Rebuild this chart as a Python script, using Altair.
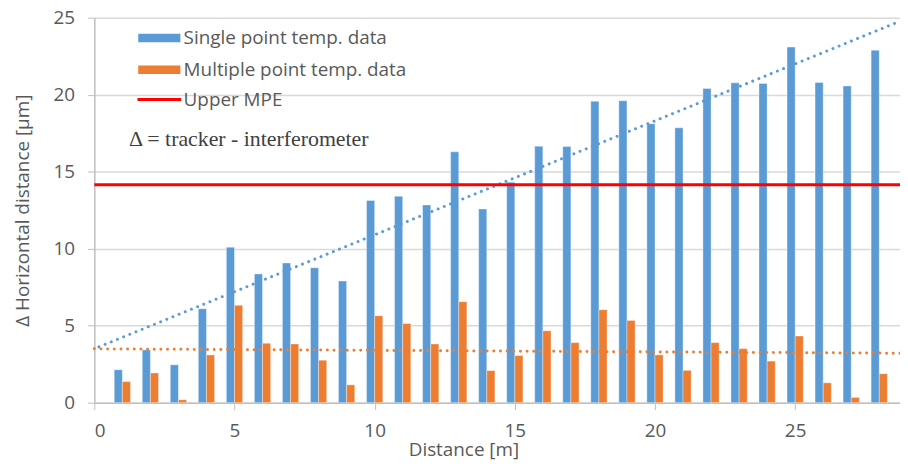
import altair as alt
import pandas as pd

distance = list(range(1, 29))
single = [2.14, 3.43, 2.46, 6.10, 10.10, 8.36, 9.07, 8.77, 7.90, 13.13,
          13.40, 12.84, 16.29, 12.58, 14.32, 16.65, 16.63, 19.57, 19.61, 18.11,
          17.85, 20.40, 20.77, 20.73, 23.09, 20.79, 20.57, 22.89]
multiple = [1.37, 1.93, 0.19, 3.10, 6.32, 3.86, 3.81, 2.76, 1.16, 5.64,
            5.14, 3.81, 6.56, 2.08, 3.06, 4.67, 3.90, 6.04, 5.34, 3.10,
            2.10, 3.90, 3.51, 2.70, 4.33, 1.29, 0.34, 1.88]
upper_mpe = [14.15]

S = "Single point temp. data"
M = "Multiple point temp. data"
BLUE = "#5B9BD5"
ORANGE = "#ED7D31"
RED = "#FF0000"
XMAX = 28.74
FONT = "Open Sans"
FS = 19
GRAY = "#595959"

df = pd.DataFrame({"x": distance, S: single, M: multiple})
long = df.melt("x", var_name="series", value_name="value")

xscale = alt.Scale(domain=[0, XMAX], nice=False, zero=False)
yscale = alt.Scale(domain=[0, 25], nice=False)

base = alt.Chart(long)

bars = base.transform_calculate(
    x0=f"datum.series == '{S}' ? datum.x - 0.29 : datum.x",
    x1=f"datum.series == '{S}' ? datum.x : datum.x + 0.29",
).mark_bar(stroke="white", strokeWidth=0.6, strokeOpacity=0.6).encode(
    x=alt.X("x0:Q", scale=xscale,
            axis=alt.Axis(title="Distance [m]", values=[0, 5, 10, 15, 20, 25],
                          grid=False, titleBaseline="alphabetic", titleY=53,
                          titleX=372, titleAlign="center")),
    x2="x1:Q",
    y=alt.Y("value:Q", scale=yscale,
            axis=alt.Axis(title="\u0394 Horizontal distance [\u00b5m]",
                          values=[0, 5, 10, 15, 20, 25])),
    y2=alt.datum(0),
    color=alt.Color("series:N", scale=alt.Scale(domain=[S, M], range=[BLUE, ORANGE]),
                    legend=alt.Legend(title=None, orient="none", legendX=56, legendY=11,
                                      symbolType="M-4.4,-1H4.4V1H-4.4Z",
                                      symbolSize=100, symbolOpacity=1,
                                      labelFont=FONT, labelFontSize=FS, labelLimit=0,
                                      labelColor=GRAY, rowPadding=12,
                                      labelOffset=15)),
)

trend_s = base.transform_filter(f"datum.series == '{S}'").transform_regression(
    "x", "value", extent=[0, XMAX]
).mark_line(color=BLUE, strokeWidth=3, strokeDash=[0.01, 6.7], strokeCap="round",
            strokeDashOffset=-5).encode(
    x=alt.X("x:Q", scale=xscale), y=alt.Y("value:Q", scale=yscale)
)
trend_m = base.transform_filter(f"datum.series == '{M}'").transform_regression(
    "x", "value", extent=[0, XMAX]
).mark_line(color=ORANGE, strokeWidth=3, strokeDash=[0.01, 6.7], strokeCap="round").encode(
    x=alt.X("x:Q", scale=xscale), y=alt.Y("value:Q", scale=yscale)
)

mpe_df = pd.DataFrame({"mpe": upper_mpe, "label": ["Upper MPE"]})
rule = alt.Chart(mpe_df).mark_rule(strokeWidth=3).encode(
    y=alt.Y("mpe:Q", scale=yscale),
    stroke=alt.Stroke("label:N", scale=alt.Scale(domain=["Upper MPE"], range=[RED]),
                      legend=alt.Legend(title=None, orient="none", legendX=56, legendY=73,
                                        symbolType="M-4.4,0H4.4", symbolSize=100,
                                        symbolStrokeWidth=3,
                                        labelFont=FONT, labelFontSize=FS, labelLimit=0,
                                        labelColor=GRAY, labelOffset=15)),
)

note = alt.Chart(pd.DataFrame({"t": ["\u0394 = tracker - interferometer"]})).mark_text(
    font="Liberation Serif", fontSize=22, color="#404040", align="left", baseline="middle"
).encode(x=alt.value(35), y=alt.value(122), text="t:N")

chart = alt.layer(bars, trend_s, trend_m, rule, note).properties(
    width=812, height=388,
    padding={"left": 87, "top": 8, "right": 0, "bottom": 58},
    autosize=alt.AutoSizeParams(type="none"),
    background="white",
).resolve_legend(color="independent", stroke="independent").configure_view(
    stroke=None
).configure_axis(
    labelFont=FONT, labelFontSize=FS, labelColor=GRAY,
    titleFont=FONT, titleFontSize=FS, titleColor=GRAY, titleFontWeight="normal",
    domainColor="#BFBFBF", domainWidth=1.5, tickColor="#BFBFBF", tickSize=7,
    gridColor="#D9D9D9", gridWidth=1.5,
).configure_axisY(labelPadding=13, titlePadding=21).configure_axisX(
    labelPadding=12
)

chart.save("out.html", embed_options={"renderer": "svg", "actions": False})
